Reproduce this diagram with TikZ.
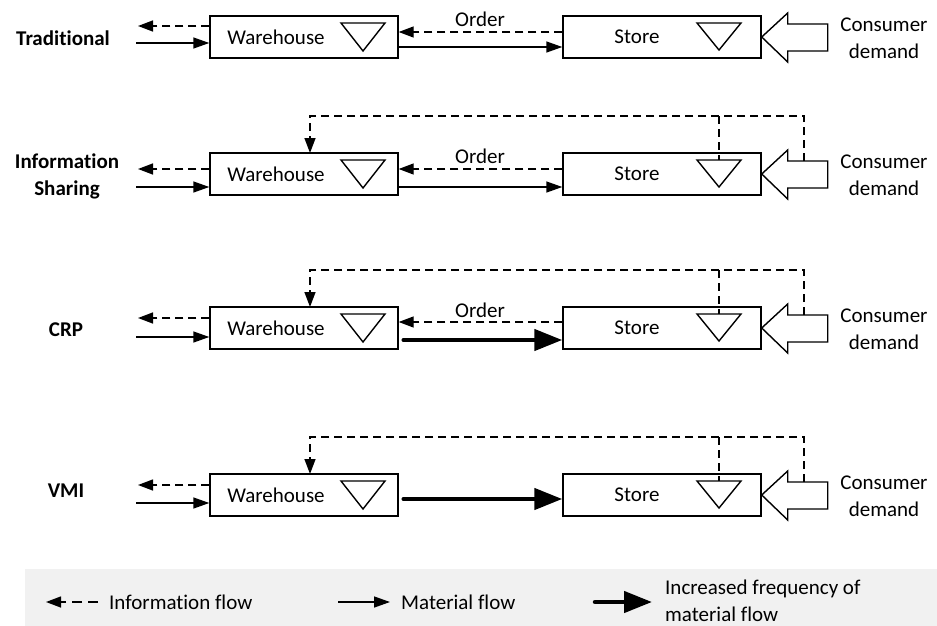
\documentclass[tikz,border=0pt]{standalone}
\usepackage{fontspec}
\setmainfont[Ligatures={NoCommon,NoRare,NoDiscretionary}]{Carlito}
\usetikzlibrary{arrows.meta,calc}
\definecolor{legendgray}{HTML}{F1F1F1}
\tikzset{
  every node/.style={font=\fontsize{21}{27}\selectfont, inner sep=0pt},
  boxnode/.style={draw, line width=1.4pt, minimum height=42pt},
  tri/.style={draw, line width=1.4pt, line join=miter},
  infoline/.style={line width=1.4pt, dash pattern=on 8pt off 5pt},
  infoflow/.style={infoline, -{Triangle[length=15pt,width=11pt]}},
  matflow/.style={line width=1.4pt, -{Triangle[length=16pt,width=11pt]}},
  thickflow/.style={line width=4.5pt, line cap=round, -{Triangle[length=28pt,width=21pt]}},
  hollow/.style={draw, line width=1.4pt, fill=white, line join=miter},
  rowlabel/.style={font=\fontsize{21}{27}\selectfont\bfseries, align=center},
}
% #1 id, #2 top y
\newcommand\chainrow[2]{%
  \node[boxnode, minimum width=188pt] (wh#1) at (304,#2+21) {};
  \node (wt#1) at (276,#2+21) {Warehouse};
  \node[boxnode, minimum width=198pt] (st#1) at (662,#2+21) {};
  \node (stt#1) at (637,#2+21) {Store};
  \node[align=center] (cd#1) at (884,#2+22) {Consumer\\demand};
  \draw[tri] (341,#2+7) -- (385,#2+7) -- (363,#2+35) -- cycle;
  \draw[tri] (697,#2+7) -- (741,#2+7) -- (719,#2+34) -- cycle;
  \coordinate (sttri#1) at (719,#2+7);
  \draw[hollow] (st#1.east) -- ++(26,-24) -- ++(0,11) -- ++(40,0) -- ++(0,27)
     -- ++(-40,0) -- ++(0,11) -- cycle;
  \coordinate (fbR#1) at (804,#2+8);
}
% #1 id, #2 top y : feedback information sharing line
\newcommand\feedback[2]{%
  \coordinate (fbT#1) at (804,#2-37);
  \coordinate (whtop#1) at (310,#2);
  \draw[infoflow] (fbR#1) -- (fbT#1) -| (whtop#1);
  \draw[infoline] (sttri#1 |- fbT#1) -- (sttri#1);
}
% #1 id, #2 y dashed, #3 y solid (left side)
\newcommand\leftflows[3]{%
  \coordinate (ldash#1) at (138,#2);
  \coordinate (lsol#1) at (136,#3);
  \draw[infoflow] (wh#1.west |- ldash#1) -- (ldash#1);
  \draw[matflow] (lsol#1) -- (wh#1.west |- lsol#1);
}
\begin{document}
\begin{tikzpicture}[x=1pt,y=-1pt]
\useasboundingbox (0,0) rectangle (937,626);

% ---------- Row 1: Traditional ----------
\chainrow{1}{16}
\node[rowlabel] (lab1) at (63,38) {Traditional};
\leftflows{1}{26}{43}
\coordinate (ordy1) at (480,32);
\coordinate (maty1) at (480,47);
\draw[infoflow] (st1.west |- ordy1) -- (wh1.east |- ordy1);
\draw[matflow] (wh1.east |- maty1) -- (st1.west |- maty1);
\node (ord1) at (480,19) {Order};

% ---------- Row 2: Information Sharing ----------
\chainrow{2}{153}
\feedback{2}{153}
\node[rowlabel] (lab2) at (67,176) {Information\\Sharing};
\leftflows{2}{169}{187}
\coordinate (ordy2) at (480,169);
\coordinate (maty2) at (480,187);
\draw[infoflow] (st2.west |- ordy2) -- (wh2.east |- ordy2);
\draw[matflow] (wh2.east |- maty2) -- (st2.west |- maty2);
\node (ord2) at (480,156) {Order};

% ---------- Row 3: CRP ----------
\chainrow{3}{307}
\feedback{3}{307}
\node[rowlabel] (lab3) at (66,330) {CRP};
\leftflows{3}{318}{337}
\coordinate (ordy3) at (480,322);
\coordinate (maty3) at (480,340);
\draw[infoflow] (st3.west |- ordy3) -- (wh3.east |- ordy3);
\draw[thickflow] ($(wh3.east |- maty3)+(5,0)$) -- (st3.west |- maty3);
\node (ord3) at (480,310) {Order};

% ---------- Row 4: VMI ----------
\chainrow{4}{474}
\feedback{4}{474}
\node[rowlabel] (lab4) at (66,491) {VMI};
\leftflows{4}{485}{503}
\coordinate (maty4) at (480,499);
\draw[thickflow] ($(wh4.east |- maty4)+(5,0)$) -- (st4.west |- maty4);

% ---------- Legend ----------
\fill[legendgray] (25,569) rectangle (937,626);
\coordinate (lgA1) at (98,602);
\coordinate (lgA2) at (46,602);
\draw[infoflow, dash pattern=on 10pt off 6pt] (lgA1) -- (lgA2);
\node[anchor=west] (lgT1) at (109,602) {Information flow};
\coordinate (lgB1) at (338,602);
\coordinate (lgB2) at (390,602);
\draw[matflow] (lgB1) -- (lgB2);
\node[anchor=west] (lgT2) at (401,602) {Material flow};
\coordinate (lgC1) at (595,602);
\coordinate (lgC2) at (652,602);
\draw[line width=4.5pt, line cap=round, -{Triangle[length=28pt,width=21pt]}] (lgC1) -- (lgC2);
\node[anchor=west, align=left] (lgT3) at (665,601) {Increased frequency of\\material flow};
\end{tikzpicture}
\end{document}
